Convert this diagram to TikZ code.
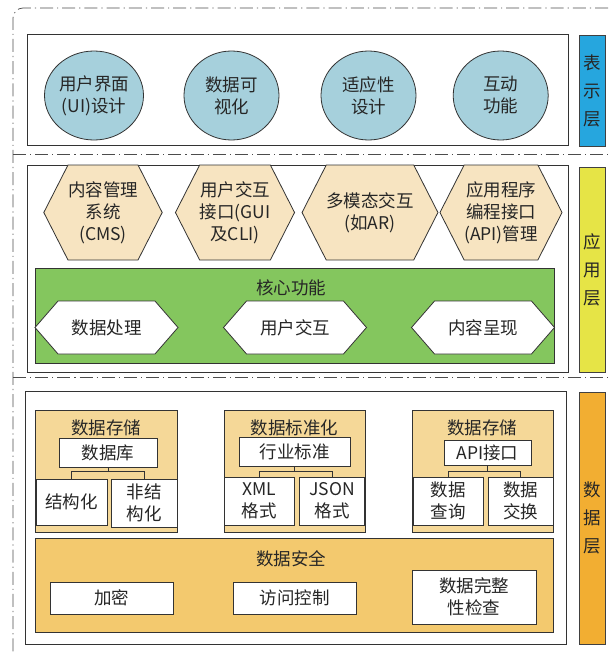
\documentclass[tikz,border=0pt]{standalone}
\usepackage{fontspec}
\setmainfont{Noto Sans CJK SC}
\usetikzlibrary{shapes.geometric,shapes.symbols}

\definecolor{barblue}{RGB}{38,166,222}
\definecolor{baryellow}{RGB}{230,228,70}
\definecolor{barorange}{RGB}{242,174,50}
\definecolor{ovalblue}{RGB}{166,208,220}
\definecolor{hexwheat}{RGB}{247,228,193}
\definecolor{coregreen}{RGB}{132,198,94}
\definecolor{storetan}{RGB}{245,216,152}
\definecolor{safegold}{RGB}{243,201,110}

\tikzset{
  layerframe/.style={draw=black!80,line width=0.8pt,fill=white},
  layerbar/.style={draw=black!75,line width=0.8pt,align=center,
    font=\fontsize{17.5}{28}\selectfont},
  sectionline/.style={draw=black!70,line width=0.7pt,
    dash pattern=on 13pt off 4pt on 1.2pt off 4pt},
  plainbox/.style={draw=black!80,line width=0.8pt,fill=white,align=center,inner sep=0pt}
}

\begin{document}
\begin{tikzpicture}[x=1pt,y=-1pt,font=\fontsize{17.5}{22}\selectfont,text=black!85]
\useasboundingbox (0,0) rectangle (614,656);

% dash-dot section lines
\draw[sectionline,rounded corners=10pt] (608,8) -- (13,8) -- (13,652);
\draw[sectionline] (13,154) -- (608,154);
\draw[sectionline] (13,377) -- (608,377);

% presentation layer
\draw[layerframe] (27,34) rectangle (568,145);
\node[layerbar,fill=barblue,minimum width=26pt,minimum height=111pt] (barP) at (592,90.5) {表\\示\\层};
\begin{scope}[every node/.style={ellipse,draw=black!80,line width=0.8pt,fill=ovalblue,
    minimum width=95pt,minimum height=89pt,inner sep=0pt,align=center}]
  \node (ui) at (94,95.5) {用户界面\\(UI)设计};
  \node (vis) at (231.5,95.5) {数据可\\视化};
  \node (adapt) at (368.5,95.5) {适应性\\设计};
  \node (inter) at (500.7,95.5) {互动\\功能};
\end{scope}

% application layer
\draw[layerframe] (27,165) rectangle (568,372);
\node[layerbar,fill=baryellow,minimum width=26pt,minimum height=205pt] (barA) at (592,269.5) {应\\用\\层};
\begin{scope}[every node/.style={signal,signal to=east and west,signal pointer angle=126,
    draw=black!80,line width=0.8pt,fill=hexwheat,minimum width=115pt,minimum height=95pt,
    inner sep=0pt,align=center}]
  \node (cms) at (103,212.5) {内容管理\\系统\\(CMS)};
  \node (gui) at (235,212.5) {用户交互\\接口(GUI\\及CLI)};
  \node (multi) at (370,212.5) {多模态交互\\(如AR)};
  \node (api) at (501,212.5) {应用程序\\编程接口\\(API)管理};
\end{scope}
\draw[draw=black!80,line width=0.8pt,fill=coregreen] (35,268) rectangle (554,363);
\node (core) at (291,288) {核心功能};
\begin{scope}[every node/.style={signal,signal to=east and west,signal pointer angle=98,
    draw=black!80,line width=0.8pt,fill=white,minimum width=143pt,minimum height=53pt,
    inner sep=0pt}]
  \node (proc) at (106.5,327.5) {数据处理};
  \node (useri) at (295,327.5) {用户交互};
  \node (show) at (483,327.5) {内容呈现};
\end{scope}

% data layer
\draw[layerframe] (25,391) rectangle (566,644);
\node[layerbar,fill=barorange,minimum width=26pt,minimum height=252pt] (barD) at (592,518) {数\\据\\层};

\begin{scope}[draw=black!80,line width=0.8pt,fill=storetan]
  \filldraw (35,410) rectangle (177,532);
  \filldraw (224,410) rectangle (365,532);
  \filldraw (412,410) rectangle (553,532);
\end{scope}
\node (st1) at (106,428) {数据存储};
\node (norm) at (294.5,428) {数据标准化};
\node (st2) at (482,428) {数据存储};

\begin{scope}[every node/.style={plainbox}]
  \node[minimum width=98pt,minimum height=29pt] (db) at (108,452.5) {数据库};
  \node[minimum width=71pt,minimum height=46pt] (struct) at (71.5,502) {结构化};
  \node[minimum width=66pt,minimum height=48pt] (unstruct) at (144,503) {非结\\构化};
  \node[minimum width=111pt,minimum height=29pt] (std) at (294.5,451.5) {行业标准};
  \node[minimum width=70pt,minimum height=48pt] (xml) at (259,501) {XML\\格式};
  \node[minimum width=65pt,minimum height=48pt] (json) at (332,501) {JSON\\格式};
  \node[minimum width=87pt,minimum height=25pt] (apii) at (487.5,453) {API接口};
  \node[minimum width=70pt,minimum height=48pt] (query) at (448,501) {数据\\查询};
  \node[minimum width=65pt,minimum height=48pt] (swap) at (520.5,501) {数据\\交换};
\end{scope}

% tree connectors
\begin{scope}[draw=black!80,line width=0.8pt]
  \draw (db.south) -- ++(0,4) coordinate (dbj);
  \draw (dbj) -| (struct.north);
  \draw (dbj) -| (unstruct.north);
  \draw (std.south) -- ++(0,4.5) coordinate (stdj);
  \draw (stdj) -| (xml.north);
  \draw (stdj) -| (json.north);
  \draw (apii.south) -- ++(0,5) coordinate (apij);
  \draw (apij) -| (query.north);
  \draw (apij) -| (swap.north);
\end{scope}

\draw[draw=black!80,line width=0.8pt,fill=safegold] (35,538) rectangle (553,632);
\node (safe) at (291,559) {数据安全};
\begin{scope}[every node/.style={plainbox}]
  \node[minimum width=123pt,minimum height=32pt] (enc) at (111.5,598) {加密};
  \node[minimum width=123pt,minimum height=32pt] (acc) at (294.5,598) {访问控制};
  \node[minimum width=124pt,minimum height=54pt] (check) at (474,597) {数据完整\\性检查};
\end{scope}
\end{tikzpicture}
\end{document}
